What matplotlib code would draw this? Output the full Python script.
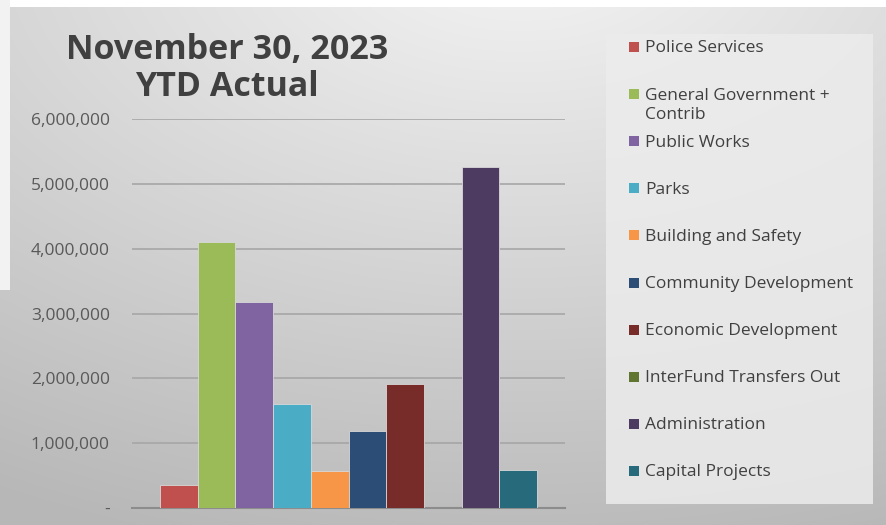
import numpy as np
import matplotlib.pyplot as plt
from matplotlib.patches import Rectangle
from matplotlib.ticker import FuncFormatter

plt.rcParams['font.family'] = ['Open Sans', 'DejaVu Sans']

departments = ['Police Services', 'General Government +\nContrib', 'Public Works', 'Parks',
               'Building and Safety', 'Community Development', 'Economic Development',
               'InterFund Transfers Out', 'Administration', 'Capital Projects']
ytd_actual = [350000, 4100000, 3170000, 1600000, 566000, 1190000, 1920000, 0, 5260000, 580000]
colors = ['#C0504D', '#9BBB59', '#8064A2', '#4BACC6', '#F79646',
          '#2C4D75', '#772C2A', '#5F7530', '#4D3B62', '#276A7C']
yticks = [0, 1000000, 2000000, 3000000, 4000000, 5000000, 6000000]

W, H = 886, 525
fig = plt.figure(figsize=(W / 100, H / 100), dpi=100)
fig.patch.set_facecolor('white')

# gray gradient background of the chart area
bg = fig.add_axes([0, 0, 1, 1], zorder=-10)
yy, xx = np.mgrid[0:H, 0:W]
d = np.sqrt(((xx - 520) / W) ** 2 + ((yy + 60) / H) ** 2)
shade = 0.96 - 0.2 * np.clip(d, 0, 1.2)
shade[:7, :] = 1.0
shade[:290, :10] = 0.95
bg.imshow(np.dstack([shade] * 3), extent=[0, W, H, 0], aspect='auto')
bg.set_xlim(0, W)
bg.set_ylim(H, 0)
bg.axis('off')

# legend panel
bg.add_patch(Rectangle((606, 34), 267, 470, facecolor='#ececec', edgecolor='none', alpha=0.85))

ax = fig.add_axes([132 / W, 1 - 508 / H, 433 / W, (508 - 119) / H])
ax.set_facecolor('none')
x = np.arange(len(ytd_actual))
ax.bar(x, ytd_actual, width=1.0, color=colors, edgecolor='#d8d8d8', linewidth=0.6, zorder=3)

ax.set_xlim(-1.24, len(ytd_actual) + 0.24)
ax.set_ylim(0, 6000000)
ax.set_yticks(yticks)
ax.yaxis.set_major_formatter(FuncFormatter(lambda v, p: '-' if v == 0 else f'{int(v):,}'))
ax.tick_params(axis='y', length=0, pad=16, labelsize=12.5, labelcolor='#595959')
ax.set_xticks([])
ax.grid(axis='y', color='#a6a6a6', linewidth=1.2, zorder=0)
for s in ['top', 'right', 'left']:
    ax.spines[s].set_visible(False)
ax.spines['bottom'].set_color('#8c8c8c')
ax.spines['bottom'].set_linewidth(1.5)

fig.text(227 / W, 1 - 50 / H, 'November 30, 2023', ha='center', va='center',
         fontsize=24.5, fontweight='bold', color='#404040')
fig.text(227 / W, 1 - 87 / H, 'YTD Actual', ha='center', va='center',
         fontsize=24.5, fontweight='bold', color='#404040')

# legend entries
for i, (name, c) in enumerate(zip(departments, colors)):
    yc = 47 + i * 47.1
    bg.add_patch(Rectangle((629, yc - 5), 10, 10, facecolor=c, edgecolor='none'))
    for k, line in enumerate(name.split('\n')):
        bg.text(645, yc + 1.5 + k * 19, line, ha='left', va='center', fontsize=12.5, color='#404040')

fig.savefig('out.png', dpi=100)
